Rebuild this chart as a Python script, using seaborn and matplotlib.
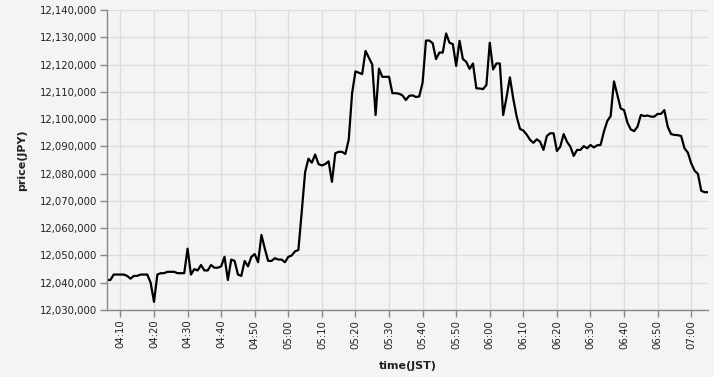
import matplotlib
matplotlib.use("Agg")
import matplotlib.pyplot as plt
import matplotlib.dates as mdates
import matplotlib.ticker as mticker
import seaborn as sns
import pandas as pd
import numpy as np

# price in thousands of JPY above 12,000,000, one value per minute from 04:06
start_time = "2024-01-01 04:06"
price_k = [
    41, 41, 43, 43, 43, 43, 42.5, 41.5, 42.5, 42.5,
    43, 43, 43, 40, 33, 43, 43.5, 43.5, 44, 44,
    44, 43.5, 43.5, 43.5, 52.5, 43, 45, 44.5, 46.5, 44.5,
    44.5, 46.5, 45.5, 45.5, 46, 49.5, 41, 48.5, 48, 43,
    42.5, 48, 46, 49.5, 50.5, 47.5, 57.5, 52.5, 48, 48,
    49, 48.5, 48.5, 47.5, 49.5, 50, 51.5, 52, 66, 80.5,
    85.5, 84, 87, 83.5, 83, 83.5, 84.5, 77, 87.5, 88,
    88, 87.2, 92.5, 109.5, 117.5, 117, 116.5, 125, 122.5, 120,
    101.5, 118.5, 115.5, 115.5, 115.5, 109.5, 109.5, 109.3, 108.7, 107,
    108.5, 108.7, 108.1, 108.3, 113.4, 128.8, 128.8, 127.8, 122, 124.4,
    124.4, 131.4, 128, 127.5, 119.5, 128.7, 122, 121, 118.4, 120.4,
    111.3, 111.2, 111, 112.5, 128, 118.2, 120.4, 120.4, 101.5, 108,
    115.3, 107.5, 101, 96.4, 95.8, 94.3, 92.4, 91.3, 92.6, 91.7,
    88.7, 93.8, 94.8, 94.8, 88.3, 89.9, 94.5, 91.7, 89.9, 86.5,
    88.7, 88.7, 90.1, 89.3, 90.5, 89.6, 90.4, 90.5, 95.4, 99.3,
    101.1, 113.8, 108.8, 103.9, 103.3, 98.7, 96.2, 95.6, 97.2, 101.5,
    101.1, 101.3, 100.9, 100.9, 101.9, 101.9, 103.3, 97.2, 94.5, 94.2,
    94.1, 93.8, 89.3, 87.7, 83.8, 81.1, 79.9, 73.7, 73.2, 73.2,
]
y_ticks = list(range(12030000, 12140001, 10000))
x_label = "time(JST)"
y_label = "price(JPY)"

times = pd.date_range(start_time, periods=len(price_k), freq="min")
prices = [12000000 + v * 1000 for v in price_k]
df = pd.DataFrame({"time": times, "price": prices})

bg = "#f4f4f4"
sns.set_theme(style="whitegrid")
plt.rcParams["font.family"] = ["DejaVu Sans"]

fig = plt.figure(figsize=(7.14, 3.77), dpi=100, facecolor=bg)
ax = fig.add_axes([107 / 714, 1 - 310 / 377, (708 - 107) / 714, 300 / 377])
ax.set_facecolor(bg)

sns.lineplot(data=df, x="time", y="price", ax=ax, color="black", linewidth=1.6)

ax.set_xlim(times[0], times[-1])
ax.set_ylim(y_ticks[0], y_ticks[-1])
ax.set_yticks(y_ticks)
ax.yaxis.set_major_formatter(mticker.FuncFormatter(lambda v, p: f"{int(round(v)):,}"))
ax.xaxis.set_major_locator(mdates.MinuteLocator(byminute=range(0, 60, 10)))
ax.xaxis.set_major_formatter(mdates.DateFormatter("%H:%M"))

ax.grid(True, color="#dddddd", linewidth=1)
for s in ["top", "right"]:
    ax.spines[s].set_visible(False)
for s in ["left", "bottom"]:
    ax.spines[s].set_visible(True)
    ax.spines[s].set_color("#888888")
    ax.spines[s].set_linewidth(1)

ax.tick_params(axis="both", which="major", length=5, width=1, color="#888888",
               labelsize=7.3, labelcolor="#222222", pad=2, direction="out",
               left=True, bottom=True)
plt.setp(ax.get_xticklabels(), rotation=90)

ax.set_xlabel(x_label, fontsize=8, fontweight="bold", labelpad=9, color="#222222")
ax.set_ylabel(y_label, fontsize=8, fontweight="bold", labelpad=9, color="#222222")

fig.savefig("out.png", dpi=100, facecolor=bg)
